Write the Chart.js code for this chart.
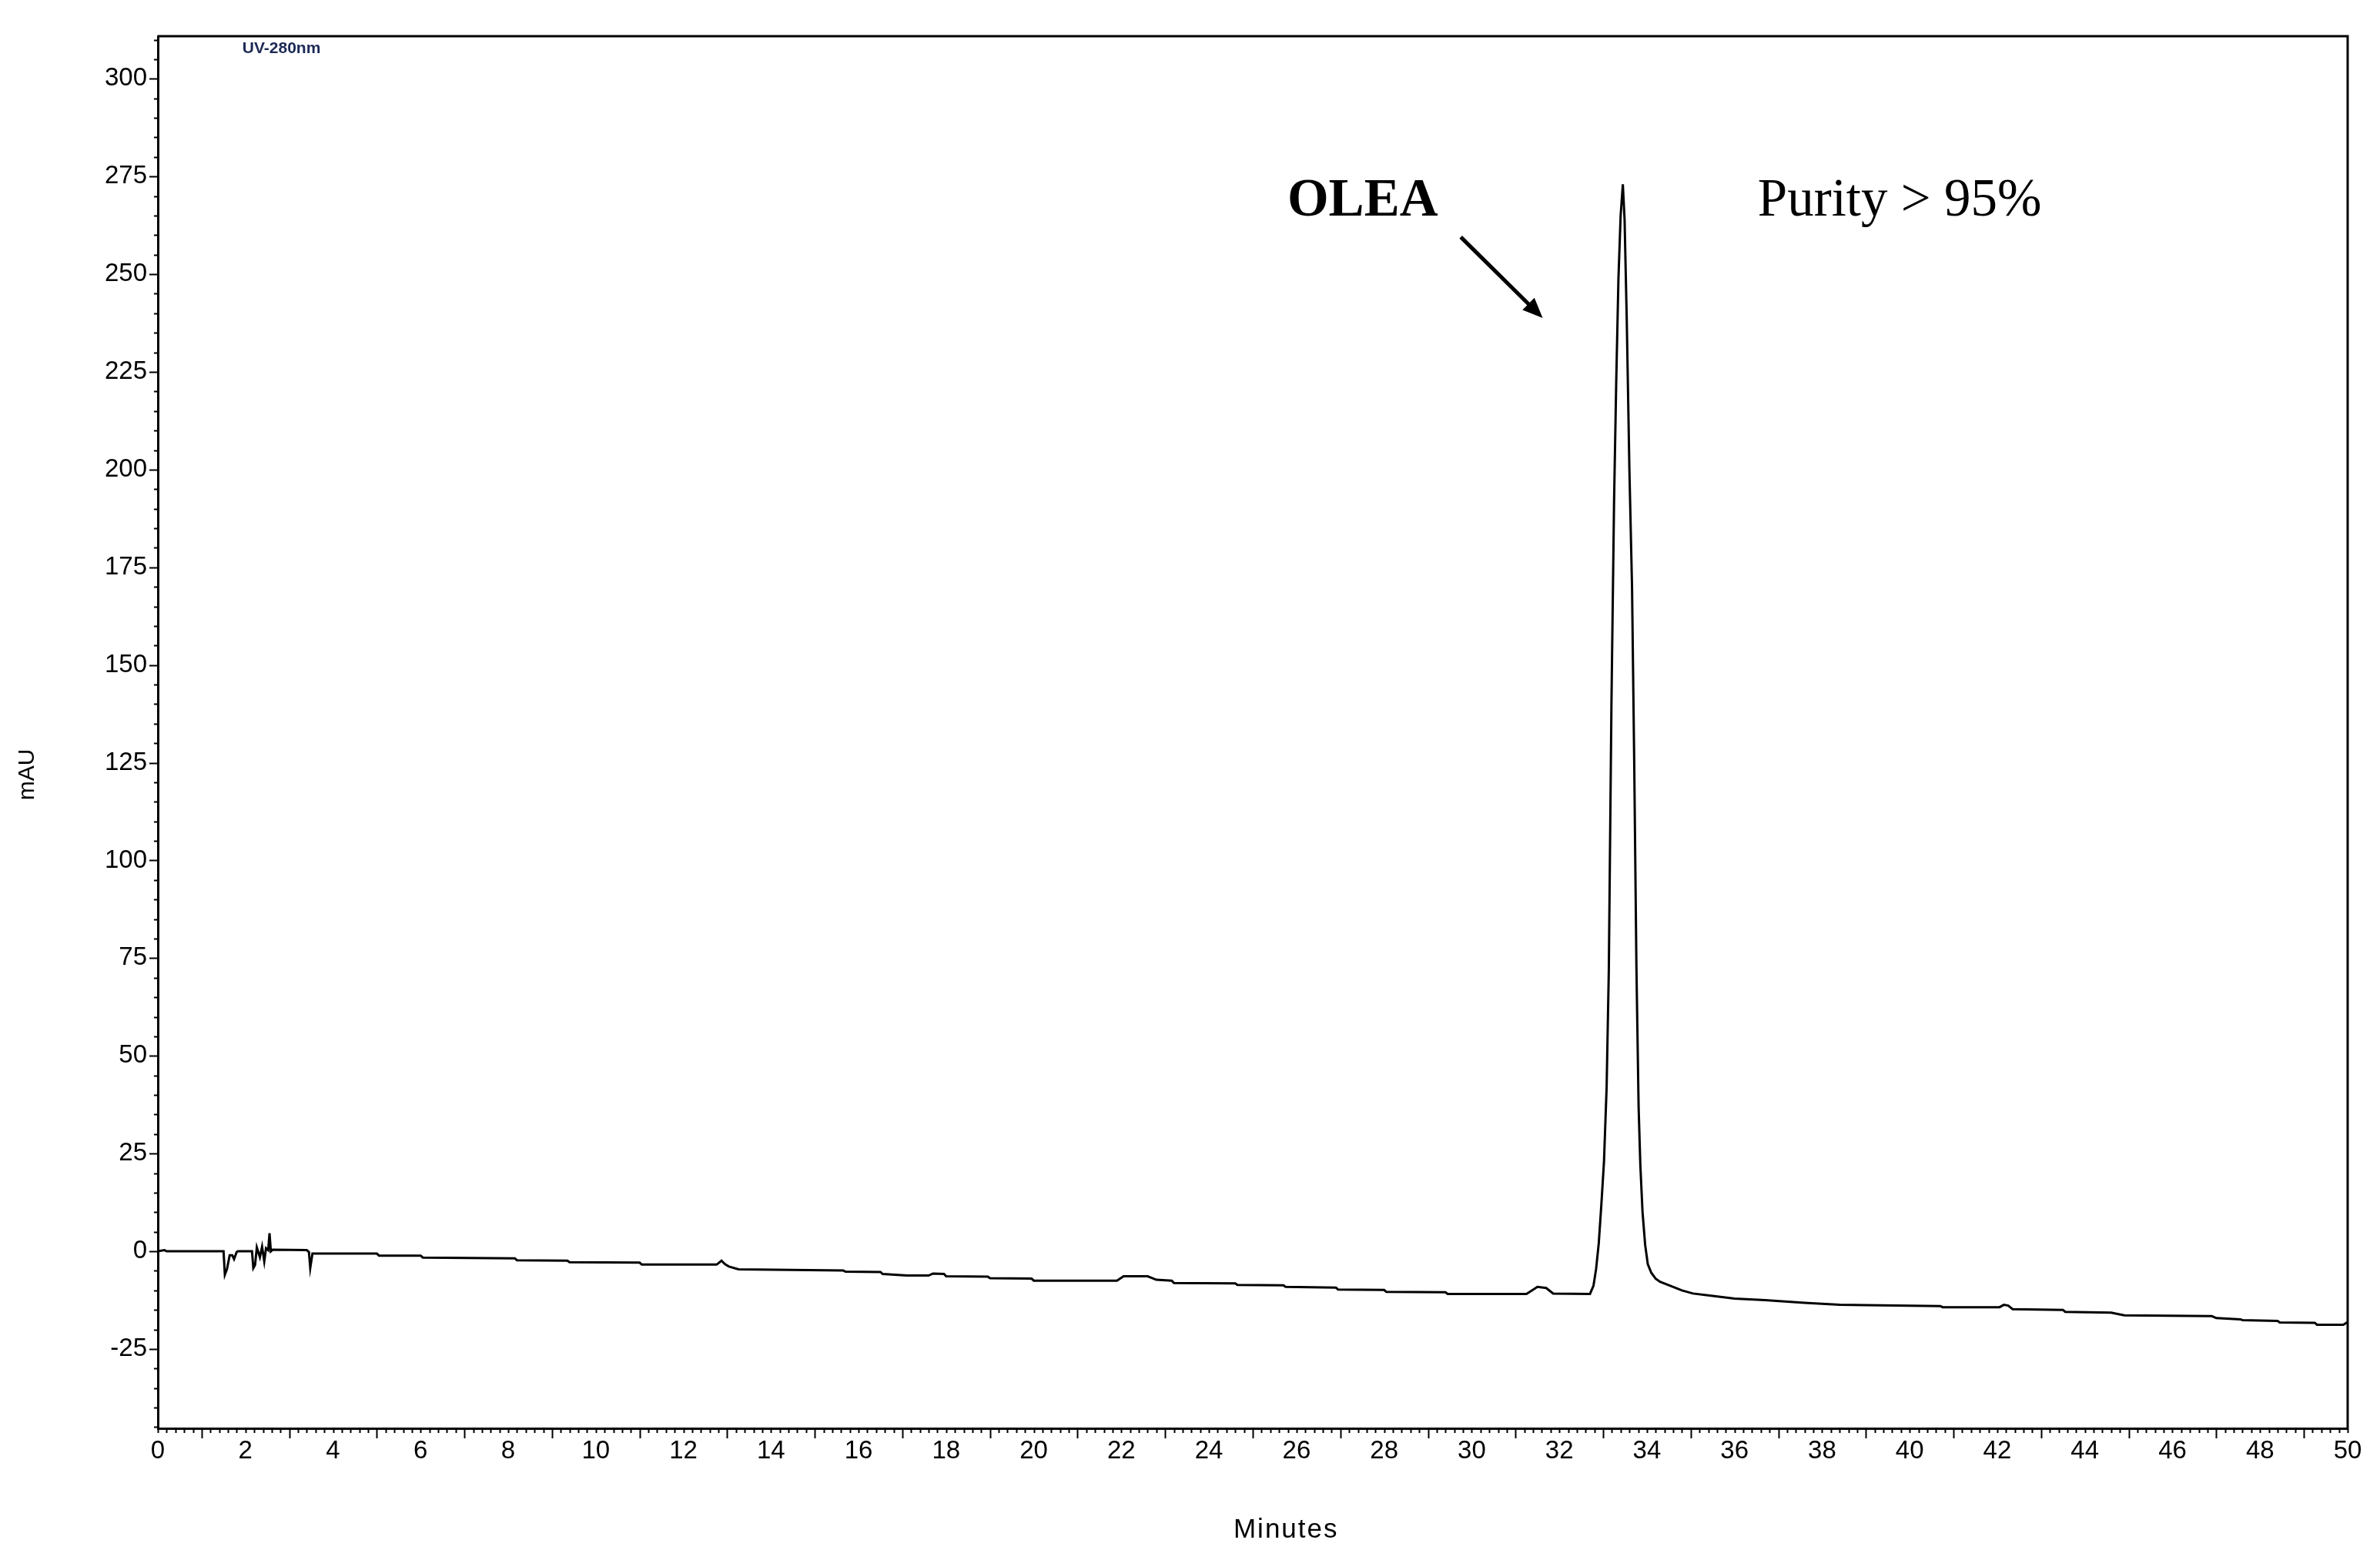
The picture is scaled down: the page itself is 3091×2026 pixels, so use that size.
<!DOCTYPE html>
<html>
<head>
<meta charset="utf-8">
<script src="https://cdn.jsdelivr.net/npm/chart.js@4"></script>
<style>
  html, body { margin: 0; padding: 0; background: #fff; }
  #wrap { width: 3091px; height: 2026px; }
</style>
</head>
<body>
<div id="wrap"><canvas id="c" width="3091" height="2026"></canvas></div>
<script>
// ---- data ----
const timeMin = [
  0.00, 0.15, 0.20, 1.50, 1.53, 1.58, 1.64, 1.70, 1.74, 1.80, 1.83, 2.15, 2.18, 2.22, 2.26, 2.33,
  2.38, 2.43, 2.47, 2.52, 2.55, 2.58, 2.62, 3.40, 3.45, 3.48, 3.53, 5.00, 5.05, 6.00, 6.05, 8.15,
  8.20, 9.35, 9.40, 11.00, 11.05, 12.76, 12.87, 12.95, 13.04, 13.26, 15.65, 15.70, 16.50, 16.55,
  17.10, 17.60, 17.70, 17.95, 18.00, 18.95, 19.00, 19.95, 20.00, 21.90, 22.05, 22.60, 22.80, 23.15,
  23.20, 24.60, 24.65, 25.70, 25.75, 26.90, 26.95, 28.00, 28.05, 29.40, 29.45, 31.25, 31.50, 31.70,
  31.86, 32.70, 32.78, 32.84, 32.90, 32.96, 33.02, 33.08, 33.13, 33.19, 33.25, 33.30, 33.35, 33.40,
  33.45, 33.49, 33.54, 33.60, 33.66, 33.71, 33.76, 33.81, 33.85, 33.90, 33.96, 34.02, 34.10, 34.20,
  34.30, 34.50, 34.80, 35.05, 35.50, 36.00, 36.70, 37.60, 38.40, 39.00, 40.70, 40.75, 42.05, 42.15,
  42.25, 42.35, 43.50, 43.55, 44.60, 44.90, 46.90, 47.00, 47.55, 47.60, 48.40, 48.45, 49.25, 49.30,
  49.90, 50.00
];
const signalMAU = [
  0.0, 0.3, 0.0, 0.0, -6.0, -4.5, -1.0, -1.0, -2.0, -0.2, 0.0, 0.0, -4.3, -3.5, 1.0, -1.5,
  1.2, -2.6, 0.8, 0.3, 4.6, 0.0, 0.4, 0.3, -0.2, -4.3, -0.6, -0.6, -1.1, -1.1, -1.6, -1.8,
  -2.3, -2.4, -2.8, -2.9, -3.4, -3.4, -2.4, -3.3, -3.9, -4.6, -4.9, -5.2, -5.3, -5.8,
  -6.2, -6.2, -5.7, -5.8, -6.4, -6.5, -6.9, -7.0, -7.5, -7.5, -6.4, -6.4, -7.3, -7.5,
  -8.1, -8.2, -8.6, -8.7, -9.1, -9.3, -9.8, -9.9, -10.4, -10.5, -10.9, -10.9, -9.1, -9.4,
  -10.8, -10.9, -8.8, -4.5, 2.0, 12.0, 23.0, 42.0, 72.0, 140.0, 192.0, 223.0, 249.0, 265.0,
  273.0, 264.0, 238.0, 200.0, 170.0, 125.0, 73.0, 37.0, 22.0, 10.0, 1.6, -3.3, -5.5, -7.0,
  -7.8, -8.7, -10.0, -10.8, -11.4, -12.1, -12.5, -13.2, -13.7, -13.8, -14.0, -14.3, -14.3, -13.7,
  -13.9, -14.8, -15.0, -15.5, -15.7, -16.4, -16.6, -17.1, -17.4, -17.6, -17.8, -18.2, -18.3, -18.8,
  -18.8, -18.1
];
const xTickLabels = [0, 2, 4, 6, 8, 10, 12, 14, 16, 18, 20, 22, 24, 26, 28, 30, 32, 34, 36, 38, 40, 42, 44, 46, 48, 50];
const yTickLabels = [-25, 0, 25, 50, 75, 100, 125, 150, 175, 200, 225, 250, 275, 300];
const xRange = [0, 50];
const yRange = [-45.3, 310.9];

const xTitle = 'Minutes';
const yTitle = 'mAU';
const channelLabel = 'UV-280nm';
const peakLabel = 'OLEA';
const purityLabel = 'Purity > 95%';

// ---- annotation anchors (in data units) ----
const annot = {
  channel: { x: 1.93, y: 307.8 },
  peak: { x: 25.79, y: 265.0 },
  purity: { x: 36.53, y: 265.0 },
  arrowFrom: { x: 29.75, y: 259.5 },
  arrowTo: { x: 31.62, y: 238.8 },
  yTitleAt: 122,
  xTitleAt: 25.76
};

const axisFont = 'Liberation Sans, Arial, sans-serif';
const serifFont = 'Liberation Serif, Times New Roman, serif';

const decorPlugin = {
  id: 'decor',
  afterDraw(chart) {
    const ctx = chart.ctx;
    const xs = chart.scales.x, ys = chart.scales.y;
    const a = chart.chartArea;
    ctx.save();
    ctx.strokeStyle = '#000';
    // frame top and right
    ctx.lineWidth = 3;
    ctx.beginPath();
    ctx.moveTo(a.left, a.top);
    ctx.lineTo(a.right, a.top);
    ctx.lineTo(a.right, a.bottom);
    ctx.stroke();
    // x minor ticks every 0.2 min, long at odd minutes
    ctx.lineWidth = 2;
    ctx.beginPath();
    for (let i = 0; i <= 250; i++) {
      const v = i * 0.2;
      const px = Math.round(xs.getPixelForValue(v)) + 0.5;
      const isOdd = (i % 10 === 5);
      const len = isOdd ? 13 : 6;
      ctx.moveTo(px, a.bottom);
      ctx.lineTo(px, a.bottom + len);
    }
    ctx.stroke();
    // y ticks every 5, major every 25
    ctx.beginPath();
    for (let v = -45; v <= 310; v += 5) {
      const py = Math.round(ys.getPixelForValue(v)) + 0.5;
      const major = (v % 25 === 0);
      const len = major ? 11 : 5;
      ctx.moveTo(a.left, py);
      ctx.lineTo(a.left - len, py);
    }
    ctx.stroke();

    // axis titles
    ctx.fillStyle = '#000';
    ctx.font = '30px ' + axisFont;
    ctx.textAlign = 'center';
    ctx.textBaseline = 'middle';
    ctx.save();
    ctx.translate(36, ys.getPixelForValue(annot.yTitleAt));
    ctx.rotate(-Math.PI / 2);
    ctx.fillText(yTitle, 0, 0);
    ctx.restore();
    ctx.font = '35px ' + axisFont;
    try { ctx.letterSpacing = '2px'; } catch (e) {}
    ctx.fillText(xTitle, xs.getPixelForValue(annot.xTitleAt), 1987);
    try { ctx.letterSpacing = '0px'; } catch (e) {}

    // channel label
    ctx.fillStyle = '#1c2a55';
    ctx.font = 'bold 21px ' + axisFont;
    ctx.textAlign = 'left';
    ctx.textBaseline = 'middle';
    ctx.fillText(channelLabel, xs.getPixelForValue(annot.channel.x), ys.getPixelForValue(annot.channel.y));

    // OLEA + purity
    ctx.fillStyle = '#000';
    ctx.textBaseline = 'alphabetic';
    ctx.font = 'bold 69px ' + serifFont;
    ctx.fillText(peakLabel, xs.getPixelForValue(annot.peak.x), ys.getPixelForValue(annot.peak.y));
    ctx.font = '69px ' + serifFont;
    ctx.fillText(purityLabel, xs.getPixelForValue(annot.purity.x), ys.getPixelForValue(annot.purity.y));

    // arrow
    const x1 = xs.getPixelForValue(annot.arrowFrom.x), y1 = ys.getPixelForValue(annot.arrowFrom.y);
    const x2 = xs.getPixelForValue(annot.arrowTo.x), y2 = ys.getPixelForValue(annot.arrowTo.y);
    const ang = Math.atan2(y2 - y1, x2 - x1);
    const headLen = 26, headW = 11;
    const bx = x2 - headLen * Math.cos(ang), by = y2 - headLen * Math.sin(ang);
    ctx.lineWidth = 5;
    ctx.lineCap = 'butt';
    ctx.beginPath();
    ctx.moveTo(x1, y1);
    ctx.lineTo(bx + 4 * Math.cos(ang), by + 4 * Math.sin(ang));
    ctx.stroke();
    ctx.beginPath();
    ctx.moveTo(x2, y2);
    ctx.lineTo(bx + headW * Math.sin(ang), by - headW * Math.cos(ang));
    ctx.lineTo(bx - headW * Math.sin(ang), by + headW * Math.cos(ang));
    ctx.closePath();
    ctx.fill();
    ctx.restore();
  }
};

const points = timeMin.map((t, i) => ({ x: t, y: signalMAU[i] }));

new Chart(document.getElementById('c').getContext('2d'), {
  type: 'line',
  data: {
    datasets: [{
      label: channelLabel,
      data: points,
      borderColor: '#000',
      borderWidth: 3,
      pointRadius: 0,
      tension: 0,
      fill: false
    }]
  },
  options: {
    responsive: false,
    animation: false,
    devicePixelRatio: 1,
    layout: { padding: { top: 47, right: 42, left: 0, bottom: 0 } },
    plugins: { legend: { display: false }, tooltip: { enabled: false }, title: { display: false } },
    scales: {
      x: {
        type: 'linear',
        min: xRange[0], max: xRange[1],
        afterBuildTicks(s) { s.ticks = xTickLabels.map(v => ({ value: v })); },
        afterFit(s) { s.height = 171; },
        ticks: {
          autoSkip: false, maxRotation: 0, minRotation: 0,
          color: '#000', padding: 10,
          font: { family: axisFont, size: 33 },
          callback: v => String(v)
        },
        grid: { display: false, drawTicks: false },
        border: { display: true, color: '#000', width: 3 }
      },
      y: {
        type: 'linear',
        min: yRange[0], max: yRange[1],
        afterBuildTicks(s) { s.ticks = yTickLabels.map(v => ({ value: v })); },
        afterFit(s) { s.width = 205; },
        ticks: {
          autoSkip: false,
          color: '#000', padding: 14,
          font: { family: axisFont, size: 33 },
          callback: v => String(v)
        },
        grid: { display: false, drawTicks: false },
        border: { display: true, color: '#000', width: 3 }
      }
    }
  },
  plugins: [decorPlugin]
});
</script>
</body>
</html>
